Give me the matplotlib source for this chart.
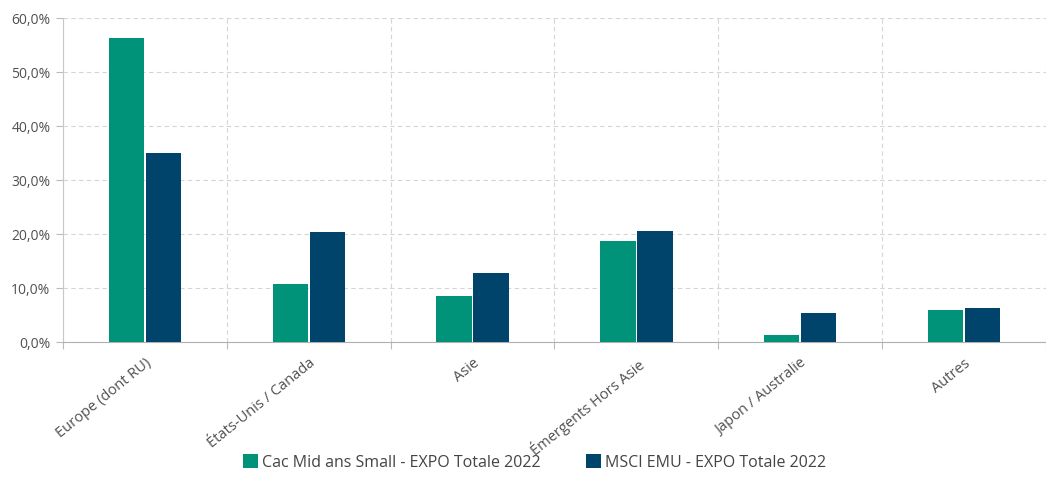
import matplotlib
matplotlib.use("Agg")
import matplotlib.pyplot as plt
import numpy as np
from matplotlib.ticker import FuncFormatter

plt.rcParams['font.family'] = ['Open Sans', 'DejaVu Sans']

categories = ["Europe (dont RU)", "États-Unis / Canada", "Asie",
              "Émergents Hors Asie", "Japon / Australie", "Autres"]
cac_mid_small = [56.3, 10.7, 8.5, 18.7, 1.3, 5.9]
msci_emu = [35.0, 20.4, 12.8, 20.6, 5.4, 6.3]
series_names = ["Cac Mid ans Small - EXPO Totale 2022", "MSCI EMU - EXPO Totale 2022"]
y_ticks = [0, 10, 20, 30, 40, 50, 60]

green = "#00937A"
navy = "#00446B"
text_col = "#505050"

W, H = 1046, 478
fig = plt.figure(figsize=(W / 100, H / 100), dpi=100)
ax = fig.add_axes([63 / W, (H - 342) / H, (1046 - 63) / W, 324 / H])

x = np.arange(len(categories))
bw = 0.215
off = 0.113
ax.bar(x - off, cac_mid_small, width=bw, color=green, label=series_names[0], zorder=3)
ax.bar(x + off, msci_emu, width=bw, color=navy, label=series_names[1], zorder=3)

# the last category runs slightly past the right edge of the figure
ax.set_xlim(-0.5, -0.5 + 983 / 165.8)
ax.set_ylim(0, 60)

# Boundaries between categories carry ticks and vertical grid lines
ax.set_xticks(np.arange(len(categories) + 1) - 0.5)
ax.set_xticklabels([])
ax.set_xticks(x, minor=True)
ax.set_xticklabels(categories, minor=True, rotation=39, ha='right',
                   rotation_mode='anchor', fontsize=10.5, color=text_col)
ax.tick_params(axis='x', which='minor', length=0, pad=10)
ax.tick_params(axis='x', which='major', length=5, color="#bbbbbb")

ax.set_yticks(y_ticks)
ax.yaxis.set_major_formatter(FuncFormatter(lambda v, p: f"{v:.1f}%".replace('.', ',')))
ax.tick_params(axis='y', length=5, color="#bbbbbb", labelsize=10, labelcolor=text_col, pad=4)

ax.grid(True, which='major', color="#d5d5d5", linestyle=(0, (4, 3)), linewidth=0.8, zorder=0)

for side in ['top', 'right']:
    ax.spines[side].set_visible(False)
ax.spines['left'].set_color("#c8c8c8")
ax.spines['bottom'].set_color("#b0b0b0")

fig.legend(loc='lower center', bbox_to_anchor=(0.511, -0.008), ncol=2, frameon=False,
           fontsize=11.5, handlelength=0.95, handleheight=0.95, handletextpad=0.25,
           columnspacing=2.8, borderpad=0.2, labelcolor="#444444")

fig.savefig("out.png", dpi=100)
